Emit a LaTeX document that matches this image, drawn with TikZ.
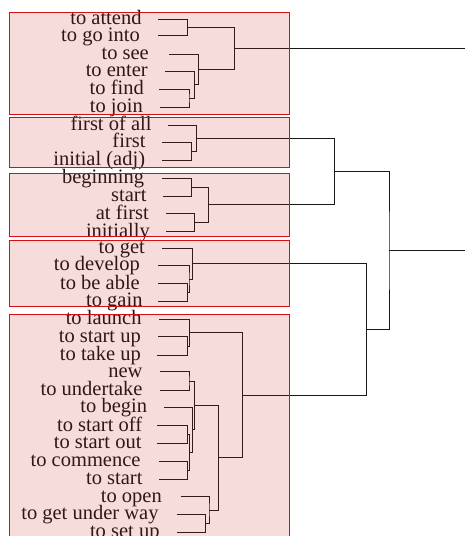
\documentclass[tikz,border=0pt]{standalone}
\usepackage{fontspec}
\setmainfont{Liberation Serif}
\usepackage{tikz}
\usetikzlibrary{calc}
\definecolor{boxred}{RGB}{214,16,16}
\definecolor{boxfill}{RGB}{206,40,40}

\begin{document}
\begin{tikzpicture}[x=1pt, y=-1pt,
    leaf/.style={anchor=base east, inner sep=0pt, yshift=-5.3pt,
        font=\fontsize{20.5pt}{21pt}\selectfont, text=black!92},
    link/.style={black!90, line width=0.8pt},
    group/.style={draw=boxred, line width=0.8pt, fill=boxfill, fill opacity=0.16}]

\useasboundingbox (0,0) rectangle (464,536);

% ── leaves: name / line start x / y / label right edge / label ──
\foreach \n/\lx/\ly/\tx/\lab in {
    attend/158/19/141.7/to attend,
    gointo/158/35.7/140/to go into,
    see/169.3/54/149/to see,
    enter/165.3/71/148/to enter,
    find/159.3/89.3/144/to find,
    join/160/107/143/to join,
    firstofall/168.3/125/151.7/first of all,
    first/162.3/142.3/145.7/first,
    initial/162.3/160.3/145.3/initial (adj),
    beginning/162.3/178/144.3/beginning,
    start/163/196/146.7/start,
    atfirst/166.3/213.7/149/at first,
    initially/166.3/231.7/150/initially,
    get/162.3/248/145/to get,
    develop/158.3/265.5/140/to develop,
    beable/158.3/283.7/140/to be able,
    gain/158.3/301.2/142.7/to gain,
    launch/159.3/319.3/141.7/to launch,
    startup/158/336.7/141/to start up,
    takeup/157.3/355.3/141/to take up,
    new/160/371.7/142.7/new,
    undertake/160/390.3/142.7/to undertake,
    begin/164/407.3/147.3/to begin,
    startoff/157.3/425.7/142.3/to start off,
    startout/157.3/443/141.7/to start out,
    commence/159.3/461/140.7/to commence,
    tostart/159.3/479/142.7/to start,
    open/180.7/496.7/162/to open,
    underway/176.7/514.3/158.7/to get under way,
    setup/176.7/532.3/159.7/to set up} {
    \coordinate (\n) at (\lx,\ly);
    \node[leaf] (\n-t) at (\tx,\ly) {\lab};
}

% ── merge points ──
\foreach \m/\mx/\my in {
    m1/187.3/27.35, m2/189/98.15, m3/194.3/84.6, m4/198.3/69.3,
    m5/234.3/48.3, m6/191.7/151.3, m7/196.7/138.15, m8/191.7/187,
    m9/194.3/222.7, m10/208.3/204.85, m11/334.3/171.5, m12/187.3/292.45,
    m13/189/279, m14/192.5/263.5, m15/187.3/346, m16/189.3/332.65,
    m17/189/381, m18/187.3/434.35, m19/187.3/470, m20/189.3/452.2,
    m21/192.7/429.8, m22/194.3/405.4, m23/205.7/523.3, m24/209/510,
    m25/218.3/457.7, m26/242.3/395.2, m27/366.3/329.35, m28/389/250.4} {
    \coordinate (\m) at (\mx,\my);
}

% ── dendrogram links ──
\foreach \m/\a/\b in {
    m1/attend/gointo, m2/find/join, m3/enter/m2, m4/see/m3, m5/m1/m4,
    m6/first/initial, m7/firstofall/m6, m8/beginning/start,
    m9/atfirst/initially, m10/m8/m9, m11/m7/m10,
    m12/beable/gain, m13/develop/m12, m14/get/m13,
    m15/startup/takeup, m16/launch/m15, m17/new/undertake,
    m18/startoff/startout, m19/commence/tostart, m20/m18/m19,
    m21/begin/m20, m22/m17/m21, m23/underway/setup, m24/open/m23,
    m25/m22/m24, m26/m16/m25, m27/m14/m26, m28/m11/m27} {
    \draw[link] (\a) -| (\m) |- (\b);
}

% root lies beyond the right edge
\coordinate (rootA) at (470,48.3);
\coordinate (rootB) at (470,250.4);
\draw[link] (m5) -- (rootA);
\draw[link] (m28) -- (rootB);

% ── groups ──
\draw[group] (9,12) rectangle (289,114);
\draw[group] (9,117) rectangle (289,167);
\draw[group] (9,173) rectangle (289,236);
\draw[group] (9,240) rectangle (289,306.5);
\draw[group] (9,314) rectangle (289,545);

\end{tikzpicture}
\end{document}
